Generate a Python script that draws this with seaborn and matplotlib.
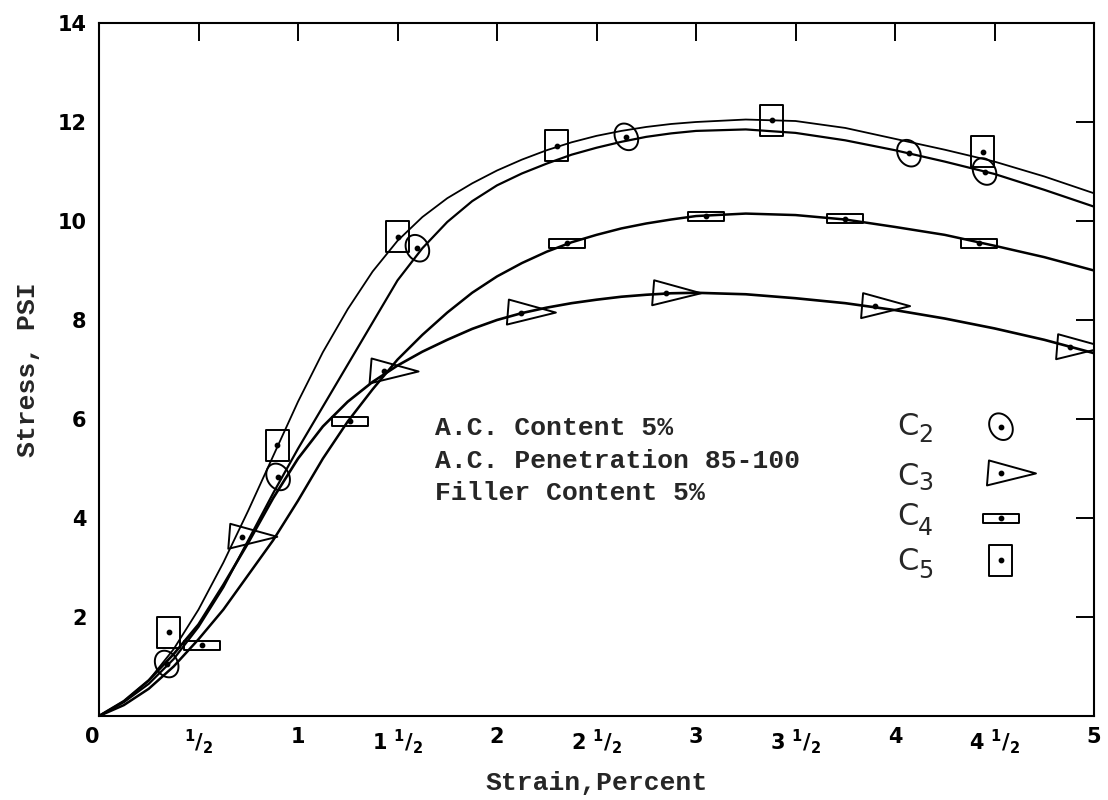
import numpy as np
import pandas as pd
import matplotlib
matplotlib.use("Agg")
import matplotlib.pyplot as plt
from matplotlib.path import Path
import seaborn as sns

DPI = 100

# ---- smoothed stress-strain curves (strain %, stress psi) ----
strain_grid = [0, 0.125, 0.25, 0.375, 0.5, 0.625, 0.75, 0.875, 1.0, 1.125,
               1.25, 1.375, 1.5, 1.625, 1.75, 1.875, 2.0, 2.125, 2.25, 2.375,
               2.5, 2.625, 2.75, 2.875, 3.0,
               3.25, 3.5, 3.75, 4.0, 4.25, 4.5, 4.75, 5.0]
curve_c2 = [0, 0.28, 0.65, 1.15, 1.8, 2.6, 3.55, 4.5, 5.4, 6.25,
            7.1, 7.95, 8.8, 9.45, 9.98, 10.4, 10.72, 10.96, 11.16, 11.34,
            11.48, 11.6, 11.7, 11.77, 11.82,
            11.85, 11.78, 11.63, 11.43, 11.2, 10.95, 10.63, 10.29]
curve_c3 = [0, 0.3, 0.72, 1.25, 1.85, 2.65, 3.5, 4.4, 5.2, 5.85,
            6.35, 6.75, 7.08, 7.36, 7.6, 7.82, 8.0, 8.14, 8.25, 8.34,
            8.41, 8.47, 8.51, 8.54, 8.55,
            8.52, 8.44, 8.34, 8.2, 8.03, 7.83, 7.6, 7.33]
curve_c4 = [0, 0.22, 0.55, 1.0, 1.55, 2.15, 2.85, 3.55, 4.35, 5.2,
            5.95, 6.6, 7.2, 7.7, 8.15, 8.55, 8.88, 9.15, 9.38, 9.57,
            9.72, 9.85, 9.95, 10.03, 10.1,
            10.15, 10.12, 10.03, 9.88, 9.72, 9.5, 9.27, 9.0]
curve_c5 = [0, 0.3, 0.72, 1.35, 2.15, 3.1, 4.15, 5.25, 6.35, 7.35,
            8.22, 8.98, 9.6, 10.08, 10.46, 10.76, 11.02, 11.24, 11.43, 11.59,
            11.72, 11.82, 11.9, 11.96, 12.0,
            12.05, 12.02, 11.88, 11.66, 11.44, 11.2, 10.9, 10.56]

# ---- measured test points ----
c2_strain = [0.34, 0.90, 1.60, 2.65, 4.07, 4.45]
c2_stress = [1.05, 4.83, 9.45, 11.70, 11.37, 11.00]
c3_strain = [0.72, 1.43, 2.12, 2.85, 3.90, 4.88]
c3_stress = [3.62, 6.96, 8.15, 8.54, 8.28, 7.45]
c4_strain = [0.52, 1.26, 2.35, 3.05, 3.75, 4.42]
c4_stress = [1.43, 5.95, 9.55, 10.10, 10.05, 9.55]
c5_strain = [0.35, 0.895, 1.50, 2.30, 3.38, 4.44]
c5_stress = [1.69, 5.47, 9.68, 11.52, 12.04, 11.40]

x_ticks = [0, 0.5, 1, 1.5, 2, 2.5, 3, 3.5, 4, 4.5, 5]
x_tick_labels = ["0", r"${}^{1}/{}_{2}$", "1", r"$1\ {}^{1}/{}_{2}$", "2",
                 r"$2\ {}^{1}/{}_{2}$", "3", r"$3\ {}^{1}/{}_{2}$", "4",
                 r"$4\ {}^{1}/{}_{2}$", "5"]
y_ticks = [2, 4, 6, 8, 10, 12, 14]

notes = ["A.C. Content 5%", "A.C. Penetration 85-100", "Filler Content 5%"]
series_names = ["2", "3", "4", "5"]

sns.set_style("white")
plt.rcParams["font.family"] = ["DejaVu Sans"]
plt.rcParams["mathtext.fontset"] = "dejavusans"
plt.rcParams["mathtext.default"] = "bf"


def px_marker(verts):
    """Build a scatter marker from vertices given in pixels around the point."""
    v = np.asarray(verts, float)
    m = np.abs(v).max()
    path = Path(np.vstack([v / m, v[:1] / m]), closed=True)
    size_pt = 2 * m * 72 / DPI
    return path, size_pt ** 2


t = np.linspace(0, 2 * np.pi, 60, endpoint=False)
ang = np.deg2rad(-60)
ex, ey = 14 * np.cos(t), 11 * np.sin(t)
ellipse_v = np.column_stack([ex * np.cos(ang) - ey * np.sin(ang),
                             ex * np.sin(ang) + ey * np.cos(ang)])
mk_c2 = px_marker(ellipse_v)
mk_c3 = px_marker([(-12, 13), (35, 0), (-14, -12)])
mk_c4 = px_marker([(-18, -4.5), (18, -4.5), (18, 4.5), (-18, 4.5)])
mk_c5 = px_marker([(-11.5, -15.5), (11.5, -15.5), (11.5, 15.5), (-11.5, 15.5)])
markers = [mk_c2, mk_c3, mk_c4, mk_c5]

fig = plt.figure(figsize=(11.08, 8.0), dpi=DPI)
ax = fig.add_axes([99 / 1108, 84 / 800, 995 / 1108, 693 / 800])

curves = pd.DataFrame({
    "strain": strain_grid * 4,
    "stress": curve_c2 + curve_c3 + curve_c4 + curve_c5,
    "mix": sum([[n] * len(strain_grid) for n in series_names], []),
})
widths = {"2": 1.6, "3": 1.9, "4": 1.8, "5": 1.3}
for name, grp in curves.groupby("mix"):
    sns.lineplot(data=grp, x="strain", y="stress", ax=ax, color="black",
                 lw=widths[name], estimator=None, sort=False)

points = [(c2_strain, c2_stress), (c3_strain, c3_stress),
          (c4_strain, c4_stress), (c5_strain, c5_stress)]
for (xs, ys), (mpath, msize) in zip(points, markers):
    ax.scatter(xs, ys, marker=mpath, s=msize, facecolors="none",
               edgecolors="black", linewidths=1.4, zorder=3)
    ax.scatter(xs, ys, s=10, color="black", zorder=4)

ax.set_xlim(0, 5)
ax.set_ylim(0, 14)
ax.set_xticks(x_ticks)
ax.set_xticklabels(x_tick_labels)
ax.set_yticks(y_ticks)
ax.set_yticklabels([str(v) for v in y_ticks])
ax.tick_params(direction="in", length=13, width=1.4, top=True, right=True,
               labeltop=False, labelright=False, colors="black")
ax.tick_params(axis="x", pad=8, labelsize=15)
ax.tick_params(axis="y", pad=9, labelsize=15)
for lab in ax.get_xticklabels() + ax.get_yticklabels():
    lab.set_fontweight("bold")
ax.get_xticklabels()[0].set_horizontalalignment("right")
for sp in ax.spines.values():
    sp.set_color("black")
    sp.set_linewidth(1.5)

mono = {"family": ["Liberation Mono", "DejaVu Sans Mono"], "weight": "bold"}
ax.set_xlabel("Strain,Percent", fontsize=19, **mono)
ax.set_ylabel("Stress, PSI", fontsize=19, **mono)
ax.xaxis.set_label_coords(0.5, -0.097)
ax.xaxis.label.set_verticalalignment("center")
ax.yaxis.set_label_coords(-0.071, 0.5)
ax.yaxis.label.set_verticalalignment("center")

for txt, fy in zip(notes, [0.4055, 0.358, 0.3117]):
    ax.text(0.3377, fy, txt, transform=ax.transAxes, fontsize=19,
            va="baseline", ha="left", **mono)

# key: letter, subscript, symbol
row_c = [0.4175, 0.346, 0.288, 0.223]
row_sub = [0.4055, 0.336, 0.271, 0.209]
row_sym = [0.4175, 0.350, 0.2855, 0.225]
for name, yc, ys, ym, (mpath, msize) in zip(series_names, row_c, row_sub,
                                            row_sym, markers):
    ax.text(0.802, yc, "C", transform=ax.transAxes, fontsize=22,
            ha="left", va="center")
    ax.text(0.823, ys, name, transform=ax.transAxes, fontsize=17,
            ha="left", va="center")
    ax.scatter([0.9065], [ym], transform=ax.transAxes, marker=mpath,
               s=msize, facecolors="none", edgecolors="black",
               linewidths=1.4, clip_on=False)
    ax.scatter([0.9065], [ym], transform=ax.transAxes, s=10,
               color="black", clip_on=False)

fig.savefig("out.png", dpi=DPI, facecolor="white")
